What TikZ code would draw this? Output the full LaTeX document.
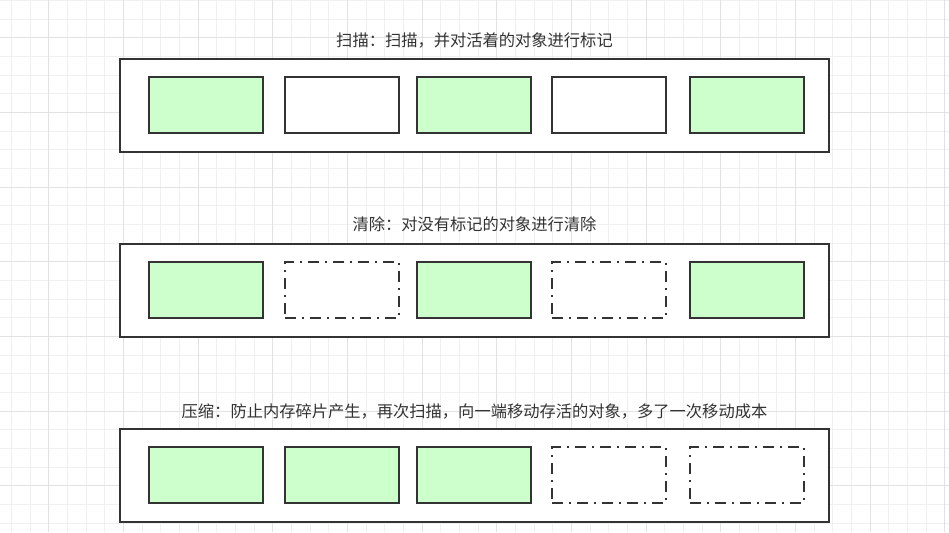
\documentclass[tikz,border=0pt]{standalone}
\usepackage{fontspec}
\newfontfamily\cjk{Noto Sans CJK SC}
\begin{document}
\begin{tikzpicture}[x=0.75pt,y=-0.75pt,
  outerbox/.style={draw=boxline,line width=1.5pt,fill=white,inner sep=0pt,minimum width=531.75pt,minimum height=69.75pt},
  livebox/.style={draw=boxline,line width=1.5pt,fill=livegreen,inner sep=0pt,minimum width=85.5pt,minimum height=42pt},
  plainbox/.style={draw=boxline,line width=1.5pt,fill=white,inner sep=0pt,minimum width=85.5pt,minimum height=42pt},
  freedbox/.style={draw=boxline,line width=1.5pt,fill=white,inner sep=0pt,minimum width=85.5pt,minimum height=42pt,dash pattern=on 8.25pt off 4.5pt on 1.5pt off 4.5pt},
  lbl/.style={text=labeltext,font=\cjk\fontsize{12.2}{14}\selectfont,inner sep=0pt}]
\definecolor{boxline}{HTML}{333333}
\definecolor{livegreen}{HTML}{CCFFCC}
\definecolor{labeltext}{HTML}{333333}
\definecolor{gridminor}{HTML}{F0F0F0}
\definecolor{gridmajor}{HTML}{E2E2E2}
\useasboundingbox (0,0) rectangle (949,532);
\fill[white] (0,0) rectangle (949,532);
% grid
\foreach \k in {-2,...,48}{
  \pgfmathsetmacro{\xx}{48.7+18.67*\k}
  \draw[gridminor,line width=0.75pt] (\xx,0) -- (\xx,532);
}
\foreach \k in {-2,...,27}{
  \pgfmathsetmacro{\yy}{37.9+18.67*\k}
  \draw[gridminor,line width=0.75pt] (0,\yy) -- (949,\yy);
}
\foreach \k in {0,4,...,48}{
  \pgfmathsetmacro{\xx}{48.7+18.67*\k}
  \draw[gridmajor,line width=0.75pt] (\xx,0) -- (\xx,532);
}
\foreach \k in {0,4,...,24}{
  \pgfmathsetmacro{\yy}{37.9+18.67*\k}
  \draw[gridmajor,line width=0.75pt] (0,\yy) -- (949,\yy);
}
% row 1
\node[lbl] (t1) at (474.5,40) {扫描：扫描，并对活着的对象进行标记};
\node[outerbox] (o1) at (474.5,105.5) {};
\node[livebox]  (a1) at (206,105) {};
\node[plainbox] (b1) at (342,105) {};
\node[livebox]  (c1) at (474,105) {};
\node[plainbox] (d1) at (609,105) {};
\node[livebox]  (e1) at (747,105) {};
% row 2
\node[lbl] (t2) at (474.5,224) {清除：对没有标记的对象进行清除};
\node[outerbox] (o2) at (474.5,290.5) {};
\node[livebox]  (a2) at (206,290) {};
\node[freedbox] (b2) at (342,290) {};
\node[livebox]  (c2) at (474,290) {};
\node[freedbox] (d2) at (609,290) {};
\node[livebox]  (e2) at (747,290) {};
% row 3
\node[lbl] (t3) at (474.5,411) {压缩：防止内存碎片产生，再次扫描，向一端移动存活的对象，多了一次移动成本};
\node[outerbox] (o3) at (474.5,475.5) {};
\node[livebox]  (a3) at (206,475) {};
\node[livebox]  (b3) at (342,475) {};
\node[livebox]  (c3) at (474,475) {};
\node[freedbox] (d3) at (609,475) {};
\node[freedbox] (e3) at (747,475) {};
\end{tikzpicture}
\end{document}
